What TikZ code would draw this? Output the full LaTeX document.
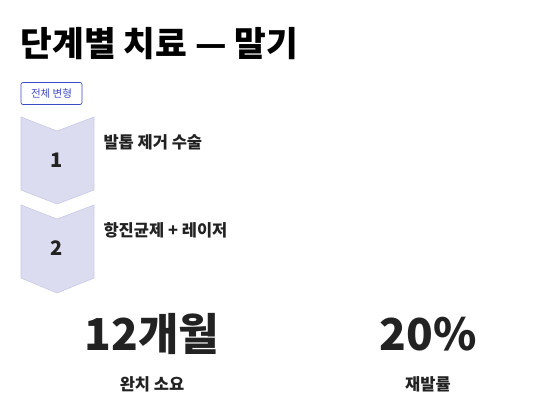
\documentclass[tikz,border=0pt]{standalone}
\usepackage{fontspec}
\setmainfont{Noto Sans CJK KR}
\definecolor{inkdark}{HTML}{222222}
\definecolor{tagblue}{HTML}{3F4BC4}
\definecolor{chevfill}{HTML}{DCDCF1}
\definecolor{chevline}{HTML}{C9C9E6}
\tikzset{
  chevron/.style={fill=chevfill, draw=chevline, line width=0.6pt},
  stepnum/.style={font=\fontsize{20}{20}\selectfont\bfseries, text=inkdark},
  steplabel/.style={anchor=west, font=\fontsize{16.5}{16.5}\selectfont\bfseries, text=inkdark},
  bignum/.style={font=\fontsize{44}{44}\selectfont\bfseries, text=inkdark},
  statlabel/.style={font=\fontsize{16.5}{16.5}\selectfont\bfseries, text=inkdark}
}
\begin{document}
\begin{tikzpicture}[x = 1pt, y = -1pt]
	\useasboundingbox (0, 0) rectangle (541, 417);
	% Heading
	\node[anchor=west, font=\fontsize{34.5}{34.5}\selectfont\bfseries, text=black] (title) at (17, 44) {단계별 치료 — 말기};
	\node[draw=tagblue, rounded corners=2pt, line width=0.7pt, text=tagblue, font=\fontsize{10.5}{10.5}\selectfont, inner sep=0pt, minimum width=61pt, minimum height=22pt] (tag) at (51.5, 93.5) {전체 변형};

	% Chevrons
	\draw[chevron] (21, 117) -- (57, 131) -- (94, 117) -- (94, 190) -- (57, 204) -- (21, 190) -- cycle;
	\draw[chevron] (21, 205) -- (57, 219) -- (94, 205) -- (94, 278) -- (57, 293) -- (21, 278) -- cycle;
	\node[stepnum] (n1) at (57, 160) {1};
	\node[stepnum] (n2) at (57, 248) {2};
	\node[steplabel] (s1) at (100, 142) {발톱 제거 수술};
	\node[steplabel] (s2) at (100, 230) {항진균제 + 레이저};

	% Stats
	\node[bignum] (m1) at (152, 334) {12개월};
	\node[bignum] (m2) at (428, 334) {20\%};
	\node[statlabel] (l1) at (152, 384) {완치 소요};
	\node[statlabel] (l2) at (428, 384) {재발률};
\end{tikzpicture}
\end{document}
